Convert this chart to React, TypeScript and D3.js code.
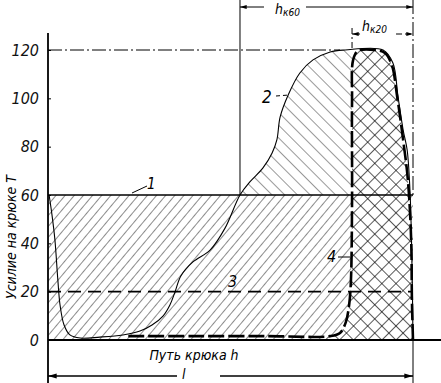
import React from "react";
import * as d3 from "d3";

// ---- data (x: path of hook, arbitrary units 0..100; y: force, T) ----
const yTicks = [0, 20, 40, 60, 80, 100, 120];
const rect1Force = 60;
const curve3Force = 20;
const maxForce = 120;
const hk60Start = 52.6;
const hk20Start = 83.3;

const curve2X = [0.3, 1.1, 1.9, 2.7, 3.3, 4.4, 6.0, 8.8, 14.2, 20.5, 25.2, 28.5, 31.5, 33.4, 34.8, 36.4, 39.7, 44.4, 48.5, 52.6, 55.3, 58.9, 61.4, 62.7, 63.6, 65.8, 69.0, 72.6, 77.3, 81.4, 91.8, 94.5, 95.9, 97.3, 98.4, 99.2, 99.7, 100];
const curve2Y = [60, 51.7, 41.4, 24.8, 14.5, 6.2, 2.1, 0.8, 1.2, 2.1, 3.7, 6.2, 9.9, 14.5, 19.9, 26.5, 32.3, 37.2, 46.3, 60, 65.4, 71.2, 77.4, 82.8, 92.3, 101.4, 110.5, 115.9, 119.2, 120, 120, 114.6, 100.6, 86.9, 78.6, 60.8, 33.1, 0];

const curve4X = [22, 40, 60, 77.3, 80.0, 81.6, 82.5, 83.0, 83.3, 83.3, 83.6, 84.9, 89.6, 92.3, 94.2, 95.6, 97.3, 98.6, 99.5, 99.7, 100];
const curve4Y = [1.6, 1.6, 1.6, 1.6, 2.9, 7.4, 14.5, 24.8, 57.9, 99.3, 115.9, 119.6, 120, 118.8, 113.8, 101.4, 82.8, 66.2, 41.4, 16.6, 0];

const yLabel = "Усилие на крюке Т";
const xLabel = "Путь крюка h";

const W = 441;
const H = 383;
const FONT = "'DejaVu Sans Condensed', 'DejaVu Sans', sans-serif";

export default function App() {
  const x = d3.scaleLinear().domain([0, 100]).range([48, 413]);
  const y = d3.scaleLinear().domain([0, 120]).range([340, 50]);

  const c2 = curve2X.map((v, i) => [v, curve2Y[i]] as [number, number]);
  const c4 = curve4X.map((v, i) => [v, curve4Y[i]] as [number, number]);

  const line = d3
    .line<[number, number]>()
    .x((d) => x(d[0]))
    .y((d) => y(d[1]))
    .curve(d3.curveCatmullRom.alpha(0.5));
  const area = d3
    .area<[number, number]>()
    .x((d) => x(d[0]))
    .y0(y(0))
    .y1((d) => y(d[1]))
    .curve(d3.curveCatmullRom.alpha(0.5));

  const axisRef = React.useRef<SVGGElement>(null);
  React.useEffect(() => {
    if (!axisRef.current) return;
    const g = d3.select(axisRef.current);
    g.selectAll("*").remove();
    g.call(
      d3
        .axisLeft(y)
        .tickValues(yTicks)
        .tickSizeInner(-3)
        .tickSizeOuter(0)
        .tickPadding(9)
        .tickFormat((d) => String(d))
    );
    g.select(".domain").remove();
    g.selectAll(".tick line").attr("stroke", "#000").attr("stroke-width", 1);
    g.selectAll(".tick text")
      .attr("font-family", FONT)
      .attr("font-style", "italic")
      .attr("font-size", 16)
      .attr("fill", "#111");
  }, []);

  const dashDot = "14 3 2 3";

  return (
    <svg
      width={W}
      height={H}
      style={{ position: "absolute", left: 0, top: 0, background: "#fff" }}
    >
      <defs>
        <pattern id="fwd" width="7" height="7" patternUnits="userSpaceOnUse" patternTransform="rotate(40)">
          <line x1="0" y1="0" x2="0" y2="7" stroke="#000" strokeWidth="0.9" />
        </pattern>
        <pattern id="back" width="9" height="9" patternUnits="userSpaceOnUse" patternTransform="rotate(-45)">
          <line x1="0" y1="0" x2="0" y2="9" stroke="#000" strokeWidth="0.8" />
        </pattern>
        <pattern id="cross" width="10" height="10" patternUnits="userSpaceOnUse" patternTransform="rotate(45)">
          <line x1="0" y1="0" x2="0" y2="10" stroke="#000" strokeWidth="1.3" />
          <line x1="0" y1="0" x2="10" y2="0" stroke="#000" strokeWidth="1.3" />
        </pattern>
        <clipPath id="c2clip">
          <path d={area(c2) || ""} />
        </clipPath>
        <clipPath id="c4clip">
          <path d={area(c4) || ""} />
        </clipPath>
        <marker id="arr" viewBox="0 0 10 6" refX="10" refY="3" markerWidth="8" markerHeight="4" orient="auto-start-reverse">
          <path d="M0,0 L10,3 L0,6 Z" fill="#000" />
        </marker>
      </defs>

      {/* region 1 hatching (0..60) */}
      <rect x={x(0)} y={y(rect1Force)} width={x(100) - x(0)} height={y(0) - y(rect1Force)} fill="url(#fwd)" />
      {/* hatching of curve 2 above 60 */}
      <rect
        x={x(hk60Start)}
        y={y(maxForce)}
        width={x(hk20Start) - x(hk60Start)}
        height={y(rect1Force) - y(maxForce)}
        fill="url(#back)"
        clipPath="url(#c2clip)"
      />
      {/* cross-hatch under curve 4 */}
      <g clipPath="url(#c4clip)">
        <rect x={x(76)} y={y(maxForce) - 2} width={x(100) - x(76)} height={y(0) - y(maxForce) + 2} fill="#fff" />
        <rect x={x(76)} y={y(maxForce) - 2} width={x(100) - x(76)} height={y(0) - y(maxForce) + 2} fill="url(#cross)" />
      </g>

      {/* construction lines */}
      <line x1={x(0)} x2={x(80)} y1={y(maxForce)} y2={y(maxForce)} stroke="#000" strokeWidth={1} strokeDasharray={dashDot} />
      <line x1={x(hk60Start)} x2={x(hk60Start)} y1={0} y2={y(rect1Force)} stroke="#000" strokeWidth={1} />
      <line x1={x(hk20Start)} x2={x(hk20Start)} y1={28} y2={y(maxForce)} stroke="#000" strokeWidth={1} strokeDasharray="6 3 2 3" />
      <line x1={x(100)} x2={x(100)} y1={0} y2={y(rect1Force)} stroke="#000" strokeWidth={1} strokeDasharray={dashDot} />

      {/* dimension lines */}
      <line x1={x(hk60Start)} x2={x(hk60Start) + 24} y1={7} y2={7} stroke="#000" strokeWidth={1} markerStart="url(#arr)" />
      <line x1={x(hk60Start) + 66} x2={x(100)} y1={7} y2={7} stroke="#000" strokeWidth={1} markerEnd="url(#arr)" />
      <text x={x(hk60Start) + 35} y={14} fontFamily={FONT} fontStyle="italic" fontSize={14}>
        h<tspan fontSize={10} dy={2}>к60</tspan>
      </text>
      <line x1={x(hk20Start)} x2={x(hk20Start) + 8} y1={34} y2={34} stroke="#000" strokeWidth={1} markerStart="url(#arr)" />
      <line x1={x(hk20Start) + 44} x2={x(100)} y1={34} y2={34} stroke="#000" strokeWidth={1} strokeDasharray="6 3" markerEnd="url(#arr)" />
      <text x={x(hk20Start) + 10} y={31} fontFamily={FONT} fontStyle="italic" fontSize={14}>
        h<tspan fontSize={10} dy={2}>к20</tspan>
      </text>

      <line x1={x(0)} x2={177} y1={376} y2={376} stroke="#000" strokeWidth={1.3} markerStart="url(#arr)" />
      <line x1={220} x2={x(100)} y1={376} y2={376} stroke="#000" strokeWidth={1.3} markerEnd="url(#arr)" />
      <text x={182} y={379} fontFamily={FONT} fontStyle="italic" fontSize={14}>l</text>
      <line x1={x(100)} x2={x(100)} y1={y(0)} y2={H} stroke="#000" strokeWidth={1} />

      {/* line 1 (60 T) and line 3 (20 T) */}
      <line x1={x(0)} x2={x(100)} y1={y(rect1Force)} y2={y(rect1Force)} stroke="#000" strokeWidth={1.6} />
      <line x1={x(0)} x2={x(100)} y1={y(curve3Force)} y2={y(curve3Force)} stroke="#000" strokeWidth={1.6} strokeDasharray="13 7" />

      {/* curve 2 */}
      <path d={line(c2) || ""} fill="none" stroke="#000" strokeWidth={1.1} />
      {/* curve 4 */}
      <path d={line(c4) || ""} fill="none" stroke="#000" strokeWidth={2.6} strokeDasharray="16 4" />

      {/* axes */}
      <line x1={x(0)} x2={x(0)} y1={33} y2={H} stroke="#000" strokeWidth={1.8} />
      <line x1={x(0)} x2={W} y1={y(0)} y2={y(0)} stroke="#000" strokeWidth={1.8} />
      <g ref={axisRef} transform={`translate(${x(0)},0)`} />

      {/* curve labels */}
      <line x1={132} y1={193} x2={147} y2={186} stroke="#000" strokeWidth={1} />
      <text x={147} y={189} fontFamily={FONT} fontStyle="italic" fontSize={15}>1</text>
      <text x={262} y={103} fontFamily={FONT} fontStyle="italic" fontSize={17}>2</text>
      <line x1={276} y1={96} x2={289} y2={95} stroke="#000" strokeWidth={1} strokeDasharray="4 3" />
      <text x={228} y={287} fontFamily={FONT} fontStyle="italic" fontSize={16}>3</text>
      <text x={327} y={262} fontFamily={FONT} fontStyle="italic" fontSize={16}>4</text>
      <line x1={338} y1={257} x2={350} y2={257} stroke="#000" strokeWidth={1} />

      {/* axis titles */}
      <text
        transform={`translate(16,${237}) rotate(-90)`}
        textAnchor="middle"
        fontFamily={FONT}
        fontStyle="italic"
        fontSize={14}
      >
        {yLabel}
      </text>
      <text x={194} y={360} textAnchor="middle" fontFamily={FONT} fontStyle="italic" fontSize={14}>
        {xLabel}
      </text>
    </svg>
  );
}
